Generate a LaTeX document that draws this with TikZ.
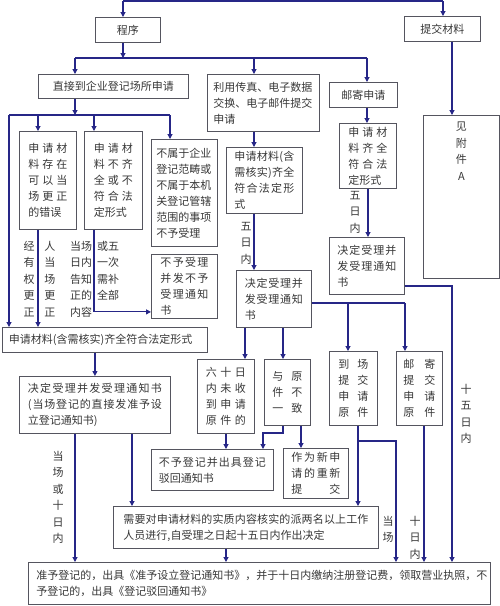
\documentclass[tikz,border=0pt]{standalone}
\usepackage{fontspec}
\setmainfont{Noto Sans CJK SC}
\usetikzlibrary{arrows.meta}
\definecolor{linkblue}{RGB}{38,38,135}
\definecolor{boxgray}{RGB}{85,85,95}
\definecolor{txtgray}{RGB}{55,55,55}
% spread the characters of one line over a given width
\def\distloop#1#2\relax{#1\if\relax\detokenize{#2}\relax\else\hfil\distloop#2\relax\fi}
\newcommand\dist[2]{\makebox[#1][s]{\distloop#2\relax}}
\tikzset{
	box/.style={draw=boxgray, line width=0.9pt, inner sep=0pt, anchor=north west, align=left, text=txtgray, font=\fontsize{11}{16}\selectfont},
	link/.style={draw=linkblue, line width=1.1pt},
	arr/.style={link, -{Triangle[width=5pt,length=5pt]}},
	vlab/.style={inner sep=0pt, anchor=north, align=center, text=txtgray, font=\fontsize{11}{16.5}\selectfont},
}
\begin{document}
\begin{tikzpicture}[x=1pt,y=-1pt]
		\useasboundingbox (0,0) rectangle (500,606);
		% boxes
		\node[box, minimum width=65pt, minimum height=25pt, align=center] (chengxu) at (95,17) {程序};
		\node[box, minimum width=76pt, minimum height=25pt, align=center] (tijiao) at (404,16) {提交材料};
		\node[box, minimum width=150pt, minimum height=24pt, align=center] (zhijie) at (38,74) {直接到企业登记场所申请};
		\node[box, minimum width=112pt, minimum height=57pt, text width=100pt] (chuanzhen) at (207,74) {利用传真、电子数据\\交换、电子邮件提交\\申请};
		\node[box, minimum width=68pt, minimum height=25pt, align=center] (youji) at (329,82) {邮寄申请};
		\node[box, minimum width=57pt, minimum height=98pt, text width=39pt] (cuowu) at (19,131) {\dist{39pt}{申请材}\\\dist{39pt}{料存在}\\\dist{39pt}{可以当}\\\dist{39pt}{场更正}\\的错误};
		\node[box, minimum width=58pt, minimum height=98pt, text width=39pt] (buqi) at (84,131) {\dist{39pt}{申请材}\\\dist{39pt}{料不齐}\\\dist{39pt}{全或不}\\\dist{39pt}{符合法}\\定形式};
		\node[box, minimum width=66pt, minimum height=107pt, text width=56pt] (bushu) at (151,139) {不属于企业\\登记范畴或\\不属于本机\\关登记管辖\\范围的事项\\不予受理};
		\node[box, minimum width=66pt, minimum height=64pt, text width=48pt] (buyu) at (151,254) {\dist{48pt}{不予受理}\\\dist{48pt}{并发不予}\\\dist{48pt}{受理通知}\\书};
		\node[box, minimum width=205pt, minimum height=25pt, text width=192pt] (qiquan) at (2,327) {申请材料(含需核实)齐全符合法定形式};
		\node[box, minimum width=151pt, minimum height=57pt, text width=134pt] (jueding) at (19,376) {\dist{134pt}{决定受理并发受理通知书}\\\dist{134pt}{(当场登记的直接发准予设}\\立登记通知书)};
		\node[box, minimum width=265pt, minimum height=42pt, text width=245pt] (heshi) at (113,506) {\dist{245pt}{需要对申请材料的实质内容核实的派两名以上工作}\\人员进行,自受理之日起十五日内作出决定};
		\node[box, minimum width=76pt, minimum height=66pt, text width=60pt] (qiquanB) at (226,147) {\dist{60pt}{申请材料(含}\\\dist{60pt}{需核实)齐全}\\\dist{60pt}{符合法定形}\\式};
		\node[box, minimum width=75pt, minimum height=57pt, text width=58pt] (juedingB) at (236,270) {\dist{58pt}{决定受理并}\\\dist{58pt}{发受理通知}\\书};
		\node[box, minimum width=57pt, minimum height=65pt, text width=39pt] (qiquanC) at (339,123) {\dist{39pt}{申请材}\\\dist{39pt}{料齐全}\\\dist{39pt}{符合法}\\定形式};
		\node[box, minimum width=75pt, minimum height=57pt, text width=59pt] (juedingC) at (329,237) {\dist{59pt}{决定受理并}\\\dist{59pt}{发受理通知}\\书};
		\node[box, minimum width=76pt, minimum height=163pt] (fujian) at (423,115) {};
		\node[vlab] (fujiantxt) at ([yshift=-7pt]fujian.north) {见\\附\\件\\A};
		\node[box, minimum width=57pt, minimum height=74pt, text width=40pt] (liushi) at (197,359) {\dist{40pt}{六十日}\\\dist{40pt}{内未收}\\\dist{40pt}{到申请}\\\dist{40pt}{原件的}};
		\node[box, minimum width=46pt, minimum height=66pt, text width=30pt] (buyizhi) at (264,359) {\dist{30pt}{与原}\\\dist{30pt}{件不}\\\dist{30pt}{一致}};
		\node[box, minimum width=48pt, minimum height=74pt, text width=30pt] (daochang) at (329,351) {\dist{30pt}{到场}\\\dist{30pt}{提交}\\\dist{30pt}{申请}\\\dist{30pt}{原件}};
		\node[box, minimum width=46pt, minimum height=74pt, text width=32pt] (youjitj) at (396,351) {\dist{32pt}{邮寄}\\\dist{32pt}{提交}\\\dist{32pt}{申请}\\\dist{32pt}{原件}};
		\node[box, minimum width=122pt, minimum height=41pt, text width=107pt] (bohui) at (151,449) {\dist{107pt}{不予登记并出具登记}\\驳回通知书};
		\node[box, minimum width=65pt, minimum height=50pt, text width=49pt] (chongxin) at (283,448) {\dist{49pt}{作为新申}\\\dist{49pt}{请的重新}\\\dist{49pt}{提交}};
		\node[box, minimum width=462pt, minimum height=42pt, text width=446pt] (zhunyu) at (28,562) {\dist{446pt}{准予登记的，出具《准予设立登记通知书》，并于十日内缴纳注册登记费，领取营业执照，不}\\予登记的，出具《登记驳回通知书》};
		% labels on the lines
		\node[vlab] (gengzheng1) at (29,241) {经\\有\\权\\更\\正};
		\node[vlab] (gengzheng2) at (50,241) {人\\当\\场\\更\\正};
		\node[vlab, anchor=north west, align=left] (gaozhi1) at (70,241) {当场\\日内\\告知\\正的\\内容};
		\node[vlab, anchor=north west, align=left] (gaozhi2) at (97,241) {或五\\一次\\需补\\全部};
		\node[vlab] (wuri1) at (246,222) {五\\日\\内};
		\node[vlab] (wuri2) at (355,191) {五\\日\\内};
		\node[vlab] (shiri1) at (58,451) {当\\场\\或\\十\\日\\内};
		\node[vlab] (dangchang) at (388,516) {当\\场};
		\node[vlab] (shiri2) at (415,516) {十\\日\\内};
		\node[vlab] (shiwu) at (466,384) {十\\五\\日\\内};
		% connectors
		\coordinate (top1) at (123,1);
		\coordinate (top2) at (443,1);
		\draw[link] (top1) -- (top2);
		\draw[arr] (top1) -- (top1 |- chengxu.north);
		\draw[arr] (top2) -- (top2 |- tijiao.north);
		\coordinate (bus1l) at (75,58);
		\coordinate (bus1m) at (254,58);
		\coordinate (bus1r) at (367,58);
		\draw[arr] (top1 |- chengxu.south) -- (top1 |- bus1l);
		\draw[link] (bus1l) -- (bus1r);
		\draw[arr] (bus1l) -- (bus1l |- zhijie.north);
		\draw[arr] (bus1m) -- (bus1m |- chuanzhen.north);
		\draw[arr] (bus1r) -- (bus1r |- youji.north);
		% on the spot
		\coordinate (bus2l) at (9,115);
		\coordinate (bus2a) at (38,115);
		\coordinate (bus2b) at (94,115);
		\coordinate (bus2r) at (170,115);
		\draw[arr] (bus1l |- zhijie.south) -- (bus1l |- bus2l);
		\draw[link] (bus2l) -- (bus2r);
		\draw[arr] (bus2a) -- (bus2a |- cuowu.north);
		\draw[arr] (bus2b) -- (bus2b |- buqi.north);
		\draw[arr] (bus2r) -- (bus2r |- bushu.north);
		\draw[arr] (bus2l) -- (bus2l |- qiquan.north);
		\draw[arr] (bus2a |- cuowu.south) -- (bus2a |- qiquan.north);
		\coordinate (buyuin) at ([yshift=7pt]buyu.south west);
		\draw[arr] (bus2b |- buqi.south) |- (buyuin);
		\draw[arr] (jueding.north |- qiquan.south) -- (jueding.north);
		\coordinate (x132) at (132,0);
		\coordinate (x226) at (226,0);
		\draw[arr] (jueding.south -| bus1l) -- (zhunyu.north -| bus1l);
		\draw[arr] (jueding.south -| x132) -- (heshi.north -| x132);
		\draw[arr] (heshi.south -| x226) -- (zhunyu.north -| x226);
		% fax and e-mail
		\draw[arr] (bus1m |- chuanzhen.south) -- (bus1m |- qiquanB.north);
		\draw[arr] (bus1m |- qiquanB.south) -- (bus1m |- juedingB.north);
		\coordinate (fork1) at (405,303);
		\coordinate (x348) at (348,303);
		\draw[link] (juedingB.east |- fork1) -- (fork1);
		\draw[arr] (x348) -- (x348 |- daochang.north);
		\draw[arr] (fork1) -- (fork1 |- youjitj.north);
		\coordinate (x245) at (245,0);
		\coordinate (x283) at (283,0);
		\coordinate (x301) at (301,0);
		\draw[arr] (juedingB.south -| x245) -- (liushi.north -| x245);
		\draw[arr] (juedingB.south -| x283) -- (buyizhi.north -| x283);
		\draw[arr] (liushi.south -| x226) -- (bohui.north -| x226);
		\coordinate (bend1) at (263,433);
		\draw[arr] (buyizhi.south -| x283) |- (bend1) -- (bend1 |- bohui.north);
		\draw[arr] (buyizhi.south -| x301) -- (chongxin.north -| x301);
		\coordinate (x358) at (358,0);
		\coordinate (fork2) at (396,441);
		\coordinate (x424) at (424,0);
		\draw[arr] (daochang.south -| x358) -- (heshi.north -| x358);
		\draw[arr] (x358 |- fork2) -| (fork2 |- zhunyu.north);
		\draw[arr] (youjitj.south -| x424) -- (zhunyu.north -| x424);
		% by post
		\coordinate (x368) at (368,0);
		\coordinate (fork3) at (452,286);
		\draw[arr] (bus1r |- youji.south) -- (bus1r |- qiquanC.north);
		\draw[arr] (qiquanC.south -| x368) -- (juedingC.north -| x368);
		\draw[arr] (juedingC.east |- fork3) -| (fork3 |- zhunyu.north);
		\draw[arr] (tijiao.south -| fork3) -- (fujian.north -| fork3);
	\end{tikzpicture}
\end{document}
